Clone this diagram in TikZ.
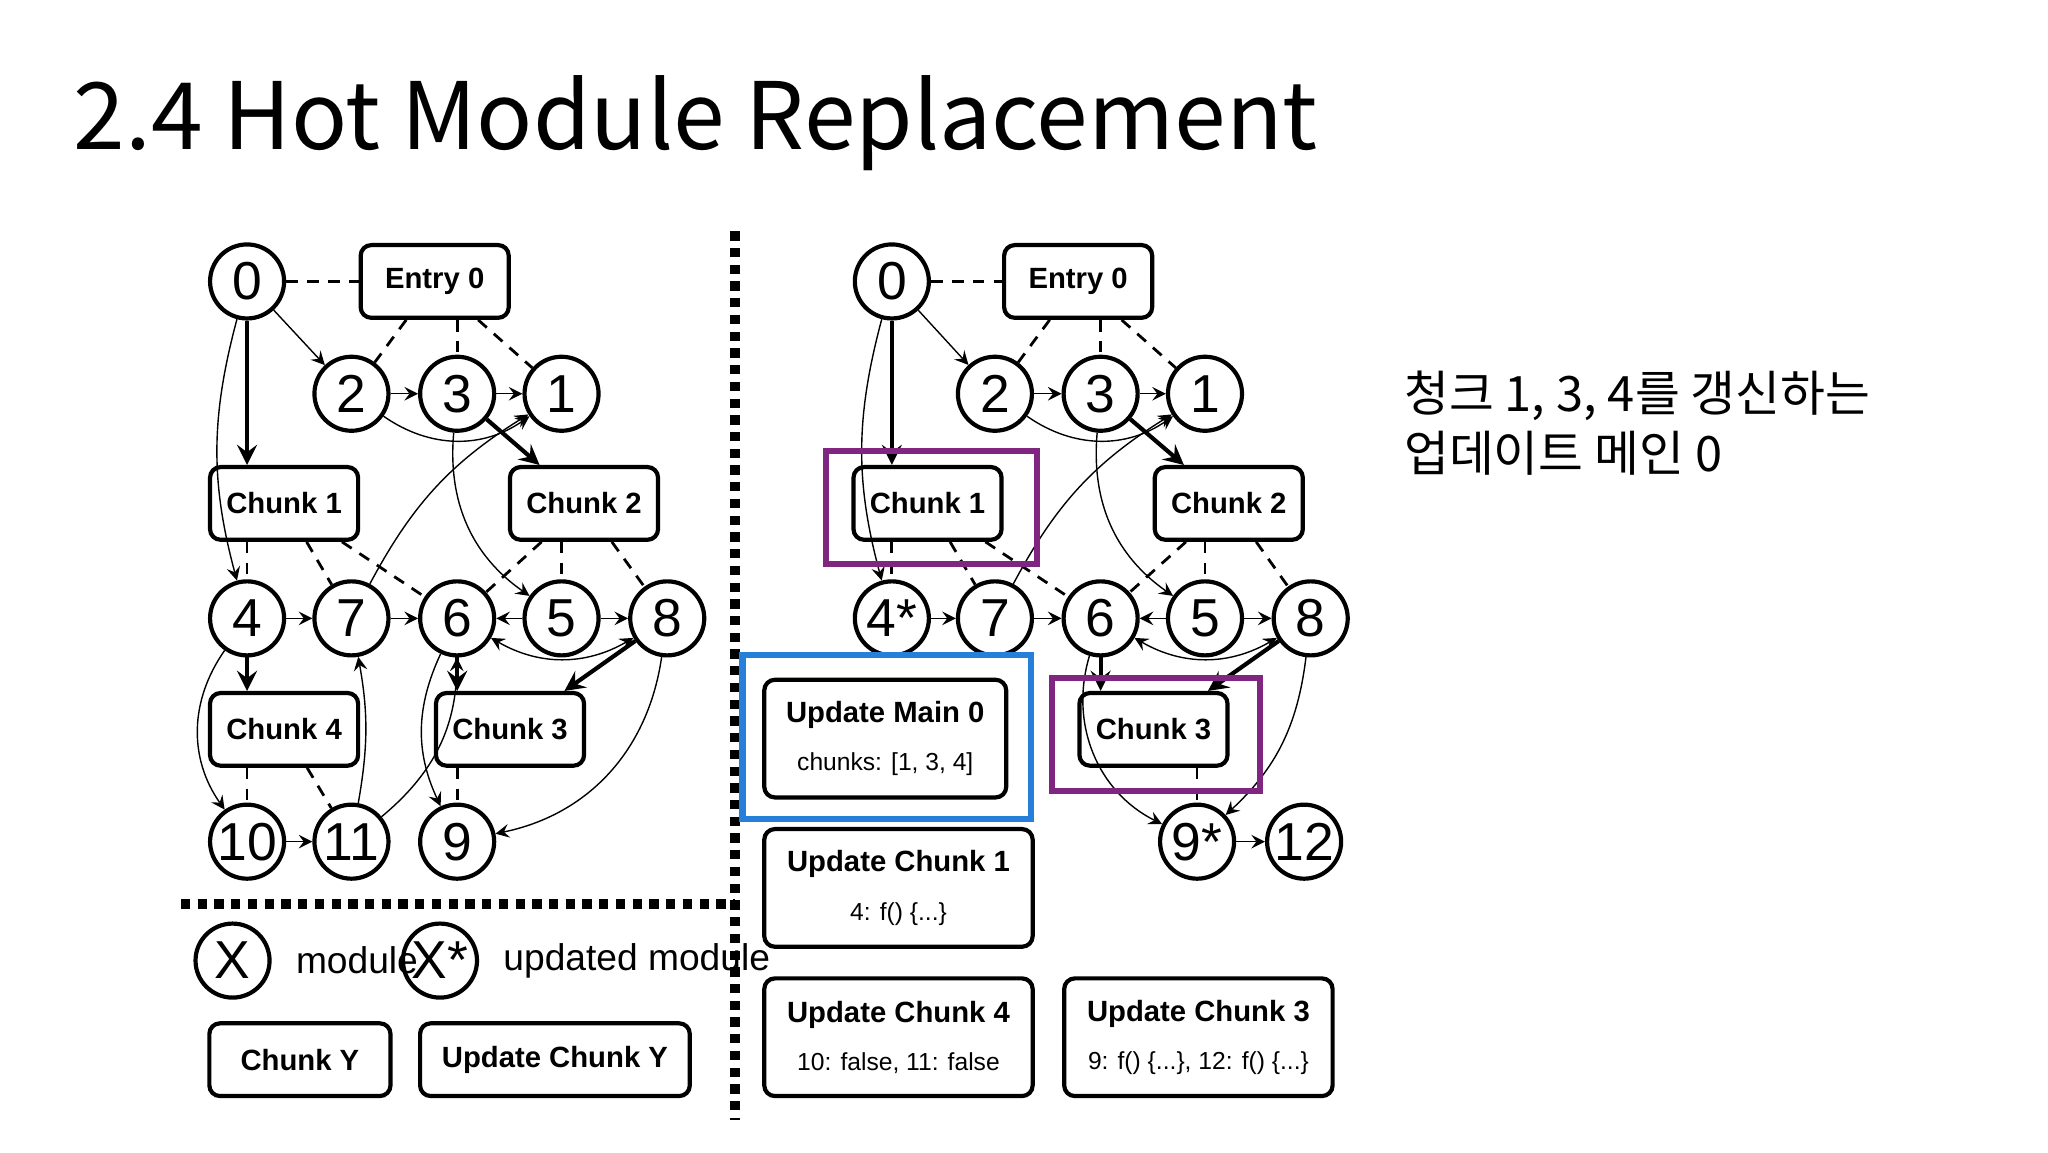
\documentclass[tikz,border=0pt]{standalone}
\usepackage{fontspec}
\setmainfont{Liberation Sans}
\newfontfamily\cjk{Noto Sans CJK KR}
\usetikzlibrary{arrows,positioning}
\tikzstyle{modNode} = [circle, draw=black, line width=0.9pt, minimum size=0.56cm, inner sep=0pt, font=\fontsize{11.5}{12}\selectfont]
\tikzstyle{chunkNode} = [rectangle, rounded corners=0.08cm, draw=black, line width=0.9pt, minimum width=1.12cm, minimum height=0.55cm, font=\fontsize{6.3}{7}\selectfont\bfseries]
\tikzstyle{updNode} = [chunkNode, minimum width=2.03cm, minimum height=0.89cm, align=center]
\tikzstyle{dep} = [->, >=stealth, line width=0.3pt]
\tikzstyle{depB} = [->, >=stealth, line width=0.9pt]
\tikzstyle{link} = [line width=0.6pt, dash pattern=on 2.5pt off 2pt]
\tikzstyle{sep} = [line width=2.2pt, dash pattern=on 2pt off 1.6pt]
\tikzstyle{hiP} = [draw=violet!70!gray, line width=1.3pt]
\tikzstyle{hiB} = [draw=blue!50!cyan!70!gray, line width=1.3pt]
\newcommand{\sub}[1]{{\fontsize{5.3}{6}\selectfont\mdseries #1}}
\begin{document}
\begin{tikzpicture}[x=0.01cm, y=-0.01cm]
    \useasboundingbox (0,0) rectangle (1550,872);
    \node (title) [anchor=base west, inner sep=0pt, font=\cjk\fontsize{20}{20}\selectfont] at (55,113) {2.4 Hot Module Replacement};
    \node (note) [anchor=north west, align=left, inner sep=0pt, font=\cjk\fontsize{10.5}{13}\selectfont] at (1062,280) {청크 1, 3, 4를 갱신하는\\업데이트 메인 0};

    % left graph
    \node (a0) [modNode] at (187,213) {0};
    \node (aE) [chunkNode] at (329,213) {Entry 0};
    \node (a2) [modNode] at (266,298) {2};
    \node (a3) [modNode] at (346,298) {3};
    \node (a1) [modNode] at (425,298) {1};
    \node (aC1) [chunkNode] at (215,381) {Chunk 1};
    \node (aC2) [chunkNode] at (442,381) {Chunk 2};
    \node (a4) [modNode] at (187,468) {4};
    \node (a7) [modNode] at (266,468) {7};
    \node (a6) [modNode] at (346,468) {6};
    \node (a5) [modNode] at (425,468) {5};
    \node (a8) [modNode] at (505,468) {8};
    \node (aC4) [chunkNode] at (215,552) {Chunk 4};
    \node (aC3) [chunkNode] at (386,552) {Chunk 3};
    \node (a10) [modNode] at (187,637) {10};
    \node (a11) [modNode] at (266,637) {11};
    \node (a9) [modNode] at (346,637) {9};

    \draw [link] (a0) -- (aE);
    \draw [link] (aE) -- (a2);
    \draw [link] (aE.south -| a3) -- (a3);
    \draw [link] (aE) -- (a1);
    \draw [link] (aC1.south -| a4) -- (a4);
    \draw [link] (aC1) -- (a7);
    \draw [link] (aC1) -- (a6);
    \draw [link] (aC2) -- (a6);
    \draw [link] (aC2.south -| a5) -- (a5);
    \draw [link] (aC2) -- (a8);
    \draw [link] (aC4.south -| a10) -- (a10);
    \draw [link] (aC4) -- (a11);
    \draw [link] (aC3.south -| a9) -- (a9);
    \draw [dep] (a0) -- (a2);
    \draw [depB] (a0) -- (a0 |- aC1.north);
    \draw [dep] (a0) to[bend right=15] (a4);
    \draw [dep] (a2) -- (a3);
    \draw [dep] (a3) -- (a1);
    \draw [dep] (a2) to[bend right=35] (a1);
    \draw [depB] (a3) -- (aC2);
    \draw [dep] (a3) to[bend right=30] (a5);
    \draw [dep] (a7) to[bend left=15] (a1);
    \draw [dep] (a4) -- (a7);
    \draw [dep] (a7) -- (a6);
    \draw [dep] (a5) -- (a6);
    \draw [dep] (a5) -- (a8);
    \draw [dep, <->] (a6) to[bend right=30] (a8);
    \draw [depB] (a4) -- (a4 |- aC4.north);
    \draw [depB] (a6) -- (a6 |- aC3.north);
    \draw [depB] (a8) -- (aC3);
    \draw [dep] (a8) to[bend left=35] (a9);
    \draw [dep] (a4) to[bend right=35] (a10);
    \draw [dep] (a10) -- (a11);
    \draw [dep] (a11) to[bend right=10] (a7);
    \draw [dep] (a11) to[bend right=25] (a6);
    \draw [dep] (a6) to[bend right=25] (a9);

    % separators and legend
    \draw [sep] (556,175) -- (556,848);
    \draw [sep] (137,684) -- (556,684);
    \node (kX) [modNode] at (176,727) {X};
    \node (kXt) [right=0.06cm of kX, font=\fontsize{8}{8}\selectfont] {module};
    \node (kXs) [modNode] at (333,727) {X*};
    \node (kXst) [right=0.06cm of kXs, font=\fontsize{8}{8}\selectfont] {updated module};
    \node (kC) [chunkNode, minimum width=1.37cm] at (227,802) {Chunk Y};
    \node (kU) [chunkNode, minimum width=2.04cm] at (420,802) {Update Chunk Y};

    % right graph
    \node (b0) [modNode] at (675,213) {0};
    \node (bE) [chunkNode] at (816,213) {Entry 0};
    \node (b2) [modNode] at (753,298) {2};
    \node (b3) [modNode] at (833,298) {3};
    \node (b1) [modNode] at (912,298) {1};
    \node (bC1) [chunkNode] at (702,381) {Chunk 1};
    \node (bC2) [chunkNode] at (930,381) {Chunk 2};
    \node (b4) [modNode] at (675,468) {4*};
    \node (b7) [modNode] at (753,468) {7};
    \node (b6) [modNode] at (833,468) {6};
    \node (b5) [modNode] at (912,468) {5};
    \node (b8) [modNode] at (992,468) {8};
    \node (bC3) [chunkNode] at (873,552) {Chunk 3};
    \node (b9) [modNode] at (906,637) {9*};
    \node (b12) [modNode] at (987,637) {12};

    \draw [link] (b0) -- (bE);
    \draw [link] (bE) -- (b2);
    \draw [link] (bE.south -| b3) -- (b3);
    \draw [link] (bE) -- (b1);
    \draw [link] (bC1.south -| b4) -- (b4);
    \draw [link] (bC1) -- (b7);
    \draw [link] (bC1) -- (b6);
    \draw [link] (bC2) -- (b6);
    \draw [link] (bC2.south -| b5) -- (b5);
    \draw [link] (bC2) -- (b8);
    \draw [link] (bC3.south -| b9) -- (b9);
    \draw [dep] (b0) -- (b2);
    \draw [depB] (b0) -- (b0 |- bC1.north);
    \draw [dep] (b0) to[bend right=15] (b4);
    \draw [dep] (b2) -- (b3);
    \draw [dep] (b3) -- (b1);
    \draw [dep] (b2) to[bend right=35] (b1);
    \draw [depB] (b3) -- (bC2);
    \draw [dep] (b3) to[bend right=30] (b5);
    \draw [dep] (b7) to[bend left=15] (b1);
    \draw [dep] (b4) -- (b7);
    \draw [dep] (b7) -- (b6);
    \draw [dep] (b5) -- (b6);
    \draw [dep] (b5) -- (b8);
    \draw [dep, <->] (b6) to[bend right=30] (b8);
    \draw [depB] (b6) -- (b6 |- bC3.north);
    \draw [depB] (b8) -- (bC3);
    \draw [dep] (b8) to[bend left=20] (b9);
    \draw [dep] (b6) to[bend right=40] (b9);
    \draw [dep] (b9) -- (b12);

    \node (uM) [updNode, minimum width=1.83cm] at (670,559) {Update Main 0\\[0.12cm]\sub{chunks: [1, 3, 4]}};
    \node (u1) [updNode] at (680,672) {Update Chunk 1\\[0.12cm]\sub{4: f() \{...\}}};
    \node (u4) [updNode] at (680,785) {Update Chunk 4\\[0.12cm]\sub{10: false, 11: false}};
    \node (u3) [updNode] at (907,785) {Update Chunk 3\\[0.12cm]\sub{9: f() \{...\}, 12: f() \{...\}}};

    \node (hC1) [hiP, minimum width=1.6cm, minimum height=0.85cm] at (705,384) {};
    \node (hC3) [hiP, minimum width=1.57cm, minimum height=0.85cm] at (875,556) {};
    \node (hM) [hiB, minimum width=2.18cm, minimum height=1.24cm] at (671,558) {};
\end{tikzpicture}
\end{document}
